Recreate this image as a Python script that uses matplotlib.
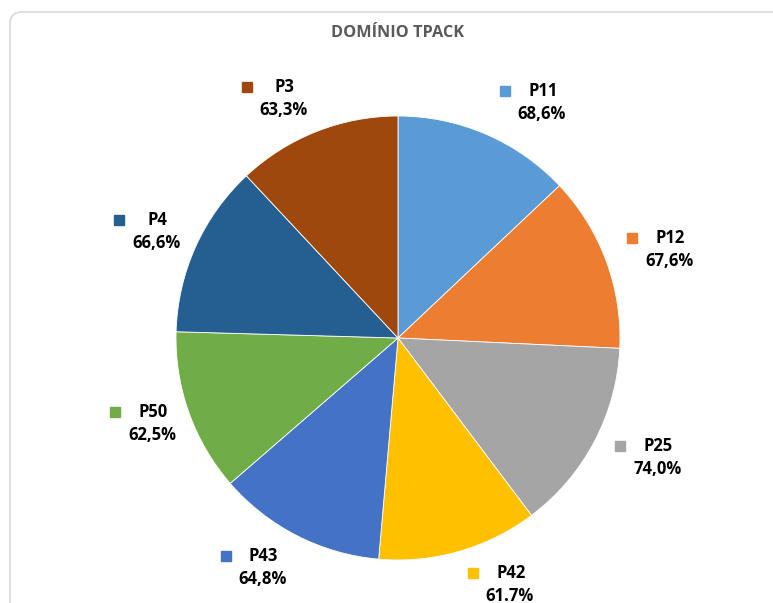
import numpy as np
import matplotlib
matplotlib.use('Agg')
import matplotlib.pyplot as plt
from matplotlib.patches import FancyBboxPatch

title = 'DOMÍNIO TPACK'
names = ['P11', 'P12', 'P25', 'P42', 'P43', 'P50', 'P4', 'P3']
values = [68.6, 67.6, 74.0, 61.7, 64.8, 62.5, 66.6, 63.3]
value_labels = ['68,6%', '67,6%', '74,0%', '61.7%', '64,8%', '62,5%', '66,6%', '63,3%']
colours = ['#5B9BD5', '#ED7D31', '#A5A5A5', '#FFC000',
           '#4472C4', '#70AD47', '#255E91', '#9E480E']

# label placement tweaks (px) on top of the mid-angle position
label_nudge = [(39, -8), (23, -4), (25, 4), (39, 8),
               (-15, 6), (4, 3), (0, -3), (-17, -8)]

W, H = 773, 603
cx, cy, radius = 398, H - 338, 222
label_dist = 265

font = 'Open Sans'

fig = plt.figure(figsize=(W / 100, H / 100), dpi=100)
ax = fig.add_axes([0, 0, 1, 1])

frame = FancyBboxPatch((10, -40), W + 40, H - 12 + 40,
                       boxstyle='round,pad=0,rounding_size=12',
                       facecolor='white', edgecolor='#D9D9D9', lw=1.2)
ax.add_patch(frame)

wedges, _ = ax.pie(values, colors=colours, startangle=90, counterclock=False,
                   center=(cx, cy), radius=radius, frame=True,
                   wedgeprops=dict(edgecolor='white', linewidth=0.6))
ax.set_xlim(0, W)
ax.set_ylim(0, H)
ax.axis('off')

for w, name, lab, col, (nx, ny) in zip(wedges, names, value_labels, colours, label_nudge):
    mid = np.deg2rad((w.theta1 + w.theta2) / 2)
    x = cx + label_dist * np.cos(mid) + nx
    y = cy + label_dist * np.sin(mid) + ny
    ax.plot(x - 37, y + 12, 's', ms=7.5, color=col)
    ax.text(x + 1, y + 12, name, ha='center', va='center', fontsize=12,
            fontweight='bold', family=font, color='black')
    ax.text(x, y - 11, lab, ha='center', va='center', fontsize=12,
            fontweight='bold', family=font, color='black')

ax.text(398, H - 33, title, ha='center', va='center', fontsize=11.7,
        fontweight='bold', family=font, color='#595959')

fig.savefig('out.png', dpi=100)
